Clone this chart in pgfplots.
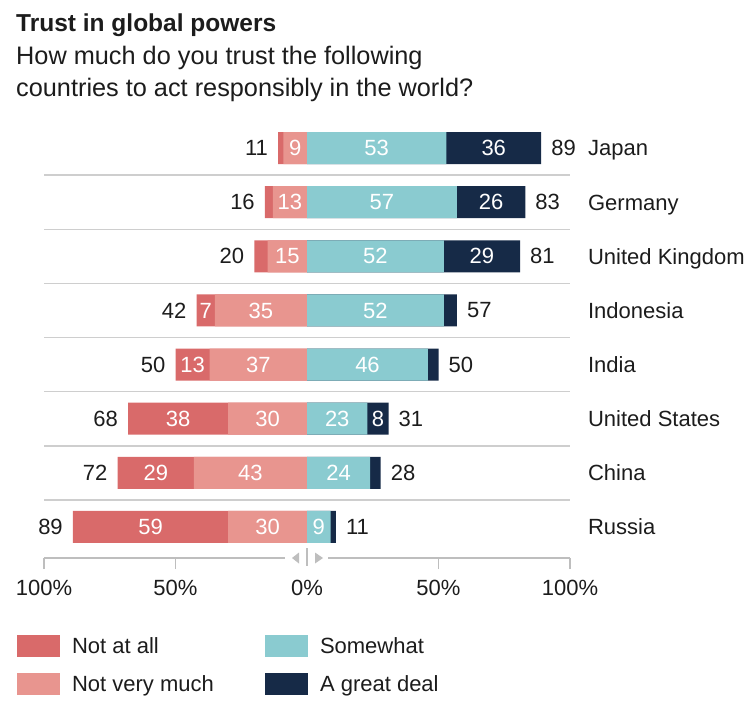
\documentclass[border=0pt]{standalone}
\usepackage{fontspec}
\setmainfont{Liberation Sans}
\usepackage{pgfplots}
\usepackage{pgfplotstable}
\pgfplotsset{compat=1.18}
\definecolor{cNAA}{RGB}{217,106,106}
\definecolor{cNVM}{RGB}{232,149,143}
\definecolor{cSOM}{RGB}{138,203,208}
\definecolor{cGRT}{RGB}{22,42,71}
\definecolor{cSep}{RGB}{206,206,206}
\definecolor{cAx}{RGB}{190,190,190}
\definecolor{cTxt}{RGB}{28,28,28}
\newcommand\lbl{\fontsize{22}{26}\selectfont}

\pgfplotstableread[col sep=comma]{
row,negtot,nvm,some,postot,negl,posl,country
7,-11,-9,53,89,11,89,Japan
6,-16,-13,57,83,16,83,Germany
5,-20,-15,52,81,20,81,United Kingdom
4,-42,-35,52,57,42,57,Indonesia
3,-50,-37,46,50,50,50,India
2,-68,-30,23,31,68,31,United States
1,-72,-43,24,28,72,28,China
0,-89,-30,9,11,89,11,Russia
}\bars

\pgfplotstableread[col sep=comma]{
x,y,label
-4.5,7,9
26.5,7,53
71,7,36
-6.5,6,13
28.5,6,57
70,6,26
-7.5,5,15
26,5,52
66.5,5,29
-38.5,4,7
-17.5,4,35
26,4,52
-43.5,3,13
-18.5,3,37
23,3,46
-49,2,38
-15,2,30
11.5,2,23
27,2,8
-57.5,1,29
-21.5,1,43
12,1,24
-59.5,0,59
-15,0,30
4.5,0,9
}\seglabels

\begin{document}
\begin{tikzpicture}
\useasboundingbox (0,0) rectangle (754pt,724pt);
\begin{axis}[
  at={(44pt,166pt)}, anchor=south west,
  scale only axis, width=526pt, height=437pt,
  xmin=-100, xmax=100, ymin=-0.573, ymax=7.5,
  clip=false,
  axis y line=none,
  axis x line*=bottom,
  x axis line style={-, draw=cAx, line width=1.3pt},
  xtick={-100,-50,0,50,100},
  xticklabels={100\%,50\%,0\%,50\%,100\%},
  xtick style={draw=cAx, line width=1.3pt},
  major tick length=11pt,
  xtick align=outside,
  xticklabel style={font=\lbl, text=cTxt, yshift=-8pt},
  ytick=\empty,
  legend columns=2,
  legend cell align=left,
  legend image code/.code={\fill[#1, draw=none] (0pt,-11pt) rectangle (43pt,11pt);},
  legend style={at={(-0.05133,-0.17616)}, anchor=north west, draw=none, fill=none,
    inner sep=0pt, outer sep=0pt, font=\lbl, text=cTxt,
    nodes={inner sep=0pt},
    row sep=16pt,
    /tikz/every odd column/.append style={column sep=12pt},
    /tikz/every even column/.append style={column sep=13pt}},
]
% separators
\addplot[xcomb, draw=cSep, line width=1.5pt, mark=none, forget plot]
  coordinates {(100,0.5)(100,1.5)(100,2.5)(100,3.5)(100,4.5)(100,5.5)(100,6.5)};
\addplot[xcomb, draw=cSep, line width=1.5pt, mark=none, forget plot]
  coordinates {(-100,0.5)(-100,1.5)(-100,2.5)(-100,3.5)(-100,4.5)(-100,5.5)(-100,6.5)};
% bars
\addplot[xbar, bar width=32pt, bar shift=0pt, draw=none, fill=cNAA, forget plot] table[x=negtot,y=row]{\bars};
\addplot[xbar, bar width=32pt, bar shift=0pt, draw=none, fill=cNVM, forget plot] table[x=nvm,y=row]{\bars};
\addplot[xbar, bar width=32pt, bar shift=0pt, draw=none, fill=cGRT, forget plot] table[x=postot,y=row]{\bars};
\addplot[xbar, bar width=32pt, bar shift=0pt, draw=none, fill=cSOM, forget plot] table[x=some,y=row]{\bars};
% labels inside bars
\addplot[draw=none, mark=none, forget plot, nodes near coords, point meta=explicit symbolic,
  every node near coord/.append style={anchor=center, text=white, font=\lbl, inner sep=0pt}]
  table[x=x,y=y,meta=label]{\seglabels};
% left totals
\addplot[draw=none, mark=none, forget plot, nodes near coords, point meta=explicit symbolic,
  every node near coord/.append style={anchor=east, xshift=-10pt, text=cTxt, font=\lbl, inner sep=0pt}]
  table[x=negtot,y=row,meta=negl]{\bars};
% right totals
\addplot[draw=none, mark=none, forget plot, nodes near coords, point meta=explicit symbolic,
  every node near coord/.append style={anchor=west, xshift=10pt, text=cTxt, font=\lbl, inner sep=0pt}]
  table[x=postot,y=row,meta=posl]{\bars};
% country names
\addplot[draw=none, mark=none, forget plot, nodes near coords, point meta=explicit symbolic,
  every node near coord/.append style={anchor=base west, yshift=-7.9pt, text=cTxt, font=\lbl, inner sep=0pt}]
  table[x expr=106.8,y=row,meta=country]{\bars};
% legend
\addlegendimage{fill=cNAA}\addlegendentry{\makebox[180pt][l]{Not at all}}
\addlegendimage{fill=cSOM}\addlegendentry{\makebox[180pt][l]{Somewhat}}
\addlegendimage{fill=cNVM}\addlegendentry{\makebox[180pt][l]{Not very much}}
\addlegendimage{fill=cGRT}\addlegendentry{\makebox[180pt][l]{A great deal}}
\coordinate (O) at (axis cs:0,-0.573);
\end{axis}
\fill[white] ([xshift=-22pt,yshift=3pt]O) rectangle ([xshift=21pt,yshift=-12.5pt]O);
\fill[cAx] ([xshift=-15pt]O) -- ([xshift=-8pt,yshift=5.5pt]O) -- ([xshift=-8pt,yshift=-5.5pt]O) -- cycle;
\fill[cAx] ([xshift=16pt]O) -- ([xshift=8pt,yshift=5.5pt]O) -- ([xshift=8pt,yshift=-5.5pt]O) -- cycle;
\draw[cAx, line width=1.3pt] ([yshift=10pt]O) -- ([yshift=-8pt]O);
\node[anchor=base west, inner sep=0pt, text=cTxt, font=\fontsize{24.5}{28}\selectfont\bfseries] at (16pt,692pt) {Trust in global powers};
\node[anchor=base west, inner sep=0pt, text=cTxt, font=\fontsize{25.3}{28}\selectfont] at (16pt,659pt) {How much do you trust the following};
\node[anchor=base west, inner sep=0pt, text=cTxt, font=\fontsize{25.3}{28}\selectfont] at (16pt,627pt) {countries to act responsibly in the world?};
\end{tikzpicture}
\end{document}
